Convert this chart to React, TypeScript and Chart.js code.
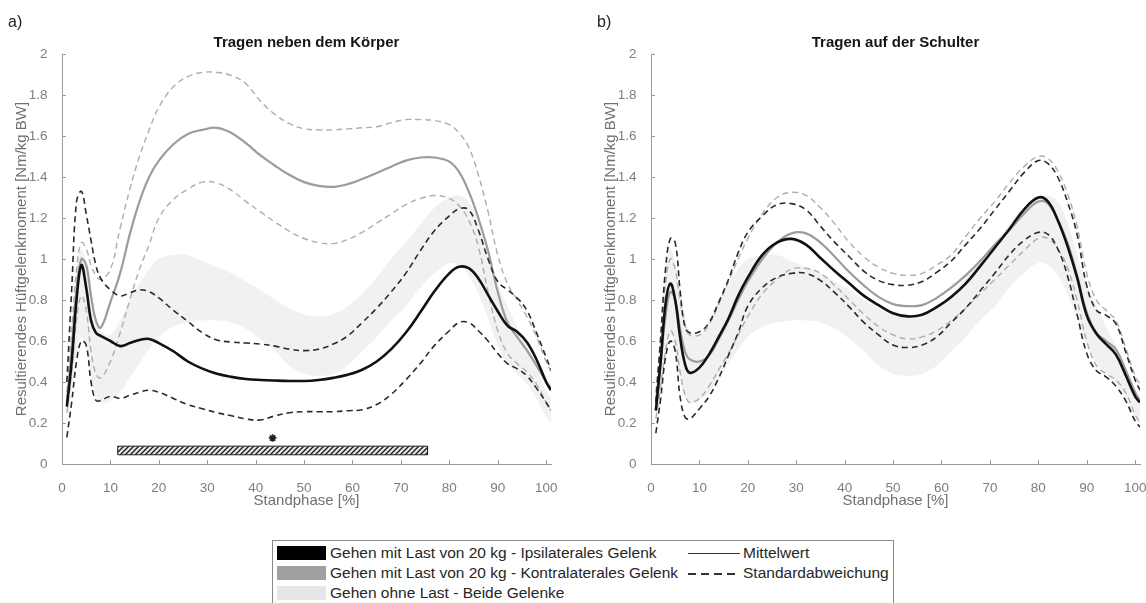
import React, { useEffect, useRef } from "react";
import { Chart, registerables } from "chart.js";

Chart.register(...registerables);

// ---------- data ----------
const X_PCT = [1, 2, 3, 4, 5, 6, 7, 8, 10, 12, 14, 16, 18, 20, 23, 26, 29, 32, 35, 38, 41, 44, 47, 50, 53, 56, 59, 62, 65, 68, 71, 74, 77, 80, 82, 84, 86, 88, 90, 92, 94, 96, 98, 100, 101];
const X_TICKS = [0, 10, 20, 30, 40, 50, 60, 70, 80, 90, 100];
const Y_TICKS = [0, 0.2, 0.4, 0.6, 0.8, 1, 1.2, 1.4, 1.6, 1.8, 2];
const Y_TICK_LABELS = ["0", "0.2", "0.4", "0.6", "0.8", "1", "1.2", "1.4", "1.6", "1.8", "2"];

// Gehen ohne Last - beide Gelenke (mean ± SD band, same in both panels)
const NO_LOAD_UP = [0.35, 0.65, 0.95, 1.05, 0.98, 0.85, 0.72, 0.65, 0.63, 0.70, 0.80, 0.88, 0.95, 1.0, 1.02, 1.02, 0.99, 0.96, 0.93, 0.89, 0.85, 0.80, 0.76, 0.73, 0.72, 0.73, 0.77, 0.83, 0.91, 1.0, 1.08, 1.17, 1.25, 1.30, 1.31, 1.28, 1.18, 1.02, 0.88, 0.77, 0.67, 0.58, 0.47, 0.36, 0.32];
const NO_LOAD_LO = [0.18, 0.35, 0.55, 0.62, 0.55, 0.42, 0.33, 0.30, 0.31, 0.35, 0.42, 0.49, 0.56, 0.62, 0.67, 0.69, 0.70, 0.70, 0.69, 0.66, 0.61, 0.55, 0.48, 0.44, 0.43, 0.44, 0.48, 0.55, 0.62, 0.70, 0.77, 0.86, 0.93, 0.98, 0.97, 0.92, 0.83, 0.71, 0.58, 0.49, 0.44, 0.39, 0.32, 0.23, 0.20];

// a) Tragen neben dem Körper
const A_IPSI_MEAN = [0.28, 0.50, 0.80, 0.97, 0.86, 0.70, 0.64, 0.625, 0.60, 0.575, 0.59, 0.605, 0.61, 0.59, 0.55, 0.50, 0.465, 0.44, 0.425, 0.415, 0.41, 0.407, 0.405, 0.405, 0.41, 0.42, 0.435, 0.46, 0.50, 0.56, 0.64, 0.74, 0.845, 0.93, 0.962, 0.955, 0.905, 0.825, 0.745, 0.675, 0.645, 0.595, 0.51, 0.40, 0.36];
const A_IPSI_UP = [0.40, 0.85, 1.28, 1.33, 1.22, 1.09, 0.97, 0.905, 0.85, 0.82, 0.835, 0.85, 0.84, 0.81, 0.75, 0.695, 0.64, 0.605, 0.595, 0.59, 0.585, 0.575, 0.56, 0.553, 0.56, 0.585, 0.625, 0.69, 0.76, 0.84, 0.93, 1.04, 1.14, 1.21, 1.245, 1.24, 1.14, 1.0, 0.89, 0.85, 0.81, 0.75, 0.64, 0.52, 0.46];
const A_IPSI_LO = [0.13, 0.30, 0.50, 0.60, 0.58, 0.40, 0.31, 0.31, 0.33, 0.32, 0.335, 0.35, 0.36, 0.35, 0.32, 0.29, 0.27, 0.25, 0.235, 0.22, 0.215, 0.235, 0.25, 0.255, 0.255, 0.255, 0.26, 0.265, 0.29, 0.34, 0.41, 0.49, 0.58, 0.65, 0.69, 0.69, 0.65, 0.60, 0.54, 0.49, 0.465, 0.43, 0.37, 0.30, 0.26];
const A_CONTRA_MEAN = [0.30, 0.55, 0.85, 1.0, 0.97, 0.82, 0.70, 0.665, 0.79, 0.93, 1.12, 1.28, 1.40, 1.48, 1.56, 1.61, 1.63, 1.64, 1.615, 1.565, 1.505, 1.455, 1.41, 1.375, 1.357, 1.352, 1.365, 1.39, 1.42, 1.45, 1.48, 1.495, 1.495, 1.475, 1.425, 1.33, 1.20, 1.04, 0.84, 0.69, 0.62, 0.555, 0.48, 0.40, 0.37];
const A_CONTRA_UP = [0.35, 0.65, 0.95, 1.08, 1.05, 0.97, 0.92, 0.90, 0.95, 1.15, 1.34, 1.50, 1.63, 1.74, 1.84, 1.89, 1.91, 1.91, 1.895, 1.855, 1.77, 1.705, 1.66, 1.635, 1.63, 1.63, 1.635, 1.64, 1.645, 1.665, 1.68, 1.68, 1.675, 1.655, 1.615, 1.545, 1.41, 1.23, 1.02, 0.88, 0.80, 0.72, 0.62, 0.50, 0.45];
const A_CONTRA_LO = [0.25, 0.45, 0.70, 0.82, 0.75, 0.55, 0.44, 0.42, 0.50, 0.64, 0.80, 0.95, 1.07, 1.20, 1.29, 1.34, 1.375, 1.37, 1.335, 1.28, 1.23, 1.18, 1.135, 1.10, 1.08, 1.075, 1.095, 1.13, 1.175, 1.22, 1.265, 1.295, 1.31, 1.295, 1.26, 1.19, 1.06, 0.84, 0.65, 0.54, 0.49, 0.45, 0.39, 0.30, 0.26];

// b) Tragen auf der Schulter
const B_IPSI_MEAN = [0.26, 0.50, 0.78, 0.88, 0.80, 0.62, 0.49, 0.445, 0.47, 0.535, 0.62, 0.71, 0.82, 0.91, 1.02, 1.08, 1.098, 1.07, 1.005, 0.94, 0.88, 0.82, 0.775, 0.735, 0.72, 0.728, 0.765, 0.815, 0.88, 0.965, 1.055, 1.145, 1.24, 1.30, 1.28, 1.19, 1.065, 0.91, 0.725, 0.635, 0.585, 0.535, 0.435, 0.33, 0.30];
const B_IPSI_UP = [0.30, 0.62, 0.95, 1.10, 1.08, 0.85, 0.67, 0.64, 0.645, 0.69, 0.79, 0.90, 1.03, 1.13, 1.21, 1.265, 1.27, 1.24, 1.16, 1.08, 1.01, 0.94, 0.895, 0.875, 0.872, 0.89, 0.935, 0.99, 1.07, 1.15, 1.24, 1.33, 1.42, 1.48, 1.465, 1.40, 1.28, 1.12, 0.87, 0.75, 0.725, 0.685, 0.55, 0.41, 0.36];
const B_IPSI_LO = [0.15, 0.32, 0.52, 0.60, 0.55, 0.33, 0.23, 0.22, 0.27, 0.33, 0.42, 0.53, 0.64, 0.77, 0.86, 0.91, 0.93, 0.93, 0.895, 0.835, 0.765, 0.69, 0.63, 0.58, 0.568, 0.58, 0.62, 0.69, 0.76, 0.845, 0.93, 1.02, 1.09, 1.13, 1.12, 1.05, 0.92, 0.73, 0.54, 0.455, 0.425, 0.38, 0.31, 0.21, 0.18];
const B_CONTRA_MEAN = [0.30, 0.50, 0.72, 0.84, 0.80, 0.66, 0.55, 0.51, 0.50, 0.53, 0.61, 0.70, 0.80, 0.89, 1.0, 1.08, 1.125, 1.125, 1.08, 1.01, 0.935, 0.87, 0.815, 0.78, 0.77, 0.775, 0.81, 0.86, 0.92, 0.99, 1.07, 1.14, 1.22, 1.28, 1.27, 1.19, 1.08, 0.92, 0.74, 0.64, 0.60, 0.56, 0.46, 0.35, 0.31];
const B_CONTRA_UP = [0.35, 0.60, 0.88, 1.0, 0.95, 0.80, 0.68, 0.63, 0.63, 0.68, 0.78, 0.89, 1.0, 1.10, 1.22, 1.30, 1.325, 1.31, 1.25, 1.17, 1.08, 1.01, 0.96, 0.93, 0.92, 0.93, 0.97, 1.02, 1.11, 1.20, 1.28, 1.37, 1.45, 1.50, 1.49, 1.43, 1.32, 1.16, 0.93, 0.80, 0.75, 0.70, 0.57, 0.43, 0.39];
const B_CONTRA_LO = [0.22, 0.38, 0.55, 0.65, 0.60, 0.45, 0.34, 0.30, 0.32, 0.38, 0.46, 0.54, 0.63, 0.72, 0.83, 0.90, 0.95, 0.955, 0.93, 0.87, 0.80, 0.73, 0.67, 0.63, 0.61, 0.62, 0.65, 0.70, 0.76, 0.83, 0.90, 0.97, 1.04, 1.10, 1.10, 1.05, 0.96, 0.80, 0.60, 0.48, 0.44, 0.41, 0.35, 0.24, 0.20];

// significance interval (panel a)
const SIG_RANGE_X = [11.5, 75.5];
const SIG_BAR_Y = [0.045, 0.087];
const SIG_STAR = [43.5, 0.127];

// ---------- styles ----------
const FONT = "'Liberation Sans', Arial, Helvetica, sans-serif";
const AXIS_COLOR = "#9a9a9a";
const TICK_COLOR = "#7e7e7e";
const LABEL_COLOR = "#707070";
const BAND_COLOR = "#f1f1f1";
const IPSI_COLOR = "#111111";
const IPSI_SD_COLOR = "#2a2a2a";
const CONTRA_COLOR = "#9c9c9c";
const CONTRA_SD_COLOR = "#adadad";
const CURVE_TENSION = 0.4;

function series(ys: number[]) {
  return X_PCT.map((x, i) => ({ x, y: ys[i] }));
}

function hatchPattern(): CanvasPattern | string {
  const c = document.createElement("canvas");
  c.width = 5;
  c.height = 5;
  const g = c.getContext("2d");
  if (!g) return "#888";
  g.fillStyle = "#e6e6e6";
  g.fillRect(0, 0, 5, 5);
  g.strokeStyle = "#1a1a1a";
  g.lineWidth = 1.3;
  g.beginPath();
  g.moveTo(0, 5);
  g.lineTo(5, 0);
  g.moveTo(-1, 1);
  g.lineTo(1, -1);
  g.moveTo(4, 6);
  g.lineTo(6, 4);
  g.stroke();
  const p = g.createPattern(c, "repeat");
  return p || "#888";
}

const inwardTicks = {
  id: "inwardTicks",
  afterDatasetsDraw(chart: any) {
    const { ctx, chartArea, scales } = chart;
    const x = scales.x;
    const y = scales.y;
    ctx.save();
    ctx.strokeStyle = AXIS_COLOR;
    ctx.lineWidth = 1;
    ctx.beginPath();
    for (const v of X_TICKS) {
      const px = Math.round(x.getPixelForValue(v)) + 0.5;
      ctx.moveTo(px, chartArea.bottom);
      ctx.lineTo(px, chartArea.bottom - 4);
    }
    for (const v of Y_TICKS) {
      const py = Math.round(y.getPixelForValue(v)) + 0.5;
      ctx.moveTo(chartArea.left, py);
      ctx.lineTo(chartArea.left + 4, py);
    }
    ctx.stroke();
    ctx.restore();
  },
};

const panelText = {
  id: "panelText",
  afterDraw(chart: any, _args: any, opts: any) {
    const { ctx, chartArea } = chart;
    ctx.save();
    ctx.fillStyle = "#151515";
    ctx.font = `bold 15px ${FONT}`;
    ctx.textAlign = "center";
    ctx.textBaseline = "middle";
    ctx.fillText(opts.title, (chartArea.left + chartArea.right) / 2, chartArea.top - 11);
    ctx.fillStyle = "#222";
    ctx.font = `16px ${FONT}`;
    ctx.textAlign = "left";
    ctx.fillText(opts.letter, 8, 23);
    ctx.restore();
  },
};

type PanelProps = {
  letter: string;
  title: string;
  ipsi: number[];
  ipsiUp: number[];
  ipsiLo: number[];
  contra: number[];
  contraUp: number[];
  contraLo: number[];
  showSig: boolean;
  left: number;
  width: number;
  padRight: number;
};

function Panel(p: PanelProps) {
  const ref = useRef<HTMLCanvasElement | null>(null);
  useEffect(() => {
    if (!ref.current) return;
    const line = (data: number[], color: string, width: number, dash: number[], order: number) => ({
      type: "line",
      data: series(data),
      borderColor: color,
      borderWidth: width,
      borderDash: dash,
      pointRadius: 0,
      fill: false,
      tension: CURVE_TENSION,
      order,
    });
    const datasets: any[] = [
      {
        type: "line",
        data: series(NO_LOAD_UP),
        borderWidth: 0,
        borderColor: "rgba(0,0,0,0)",
        backgroundColor: BAND_COLOR,
        fill: "+1",
        pointRadius: 0,
        tension: CURVE_TENSION,
        order: 30,
      },
      {
        type: "line",
        data: series(NO_LOAD_LO),
        borderWidth: 0,
        borderColor: "rgba(0,0,0,0)",
        fill: false,
        pointRadius: 0,
        tension: CURVE_TENSION,
        order: 30,
      },
      line(p.contraUp, CONTRA_SD_COLOR, 1.4, [6, 4], 20),
      line(p.contraLo, CONTRA_SD_COLOR, 1.4, [6, 4], 20),
      line(p.contra, CONTRA_COLOR, 2.2, [], 15),
      line(p.ipsiUp, IPSI_SD_COLOR, 1.6, [6, 4], 10),
      line(p.ipsiLo, IPSI_SD_COLOR, 1.6, [6, 4], 10),
      line(p.ipsi, IPSI_COLOR, 2.6, [], 5),
    ];
    if (p.showSig) {
      datasets.push({
        type: "line",
        data: [
          { x: SIG_RANGE_X[0], y: SIG_BAR_Y[0] },
          { x: SIG_RANGE_X[0], y: SIG_BAR_Y[1] },
          { x: SIG_RANGE_X[1], y: SIG_BAR_Y[1] },
          { x: SIG_RANGE_X[1], y: SIG_BAR_Y[0] },
          { x: SIG_RANGE_X[0], y: SIG_BAR_Y[0] },
        ],
        borderColor: "#222",
        borderWidth: 1,
        backgroundColor: hatchPattern(),
        fill: "shape",
        pointRadius: 0,
        tension: 0,
        order: 2,
      });
      datasets.push({
        type: "scatter",
        data: [{ x: SIG_STAR[0], y: SIG_STAR[1] }],
        pointStyle: "star",
        pointRadius: 3.8,
        borderColor: "#222",
        borderWidth: 1.7,
        backgroundColor: "#222",
        order: 1,
      });
    }
    const chart = new Chart(ref.current, {
      type: "line",
      data: { datasets },
      plugins: [inwardTicks, panelText],
      options: {
        animation: false,
        responsive: false,
        maintainAspectRatio: false,
        events: [],
        layout: { padding: { left: 0, right: p.padRight, top: 54, bottom: 0 } },
        plugins: {
          legend: { display: false },
          tooltip: { enabled: false },
          title: { display: false },
          panelText: { title: p.title, letter: p.letter },
        } as any,
        scales: {
          x: {
            type: "linear",
            min: 0,
            max: 101,
            afterBuildTicks: (s: any) => {
              s.ticks = X_TICKS.map((v) => ({ value: v }));
            },
            afterFit: (s: any) => {
              s.height = 56;
              s.paddingLeft = 0;
              s.paddingRight = 0;
            },
            ticks: {
              autoSkip: false,
              maxRotation: 0,
              padding: 8,
              color: TICK_COLOR,
              font: { family: FONT, size: 13.5 },
              callback: (v: any) => String(v),
            },
            grid: { display: false },
            border: { display: true, color: AXIS_COLOR, width: 1 },
            title: {
              display: true,
              text: "Standphase [%]",
              color: LABEL_COLOR,
              font: { family: FONT, size: 15 },
              padding: { top: 0, bottom: 10.6 },
            },
          },
          y: {
            type: "linear",
            min: 0,
            max: 2,
            afterBuildTicks: (s: any) => {
              s.ticks = Y_TICKS.map((v) => ({ value: v }));
            },
            afterFit: (s: any) => {
              s.width = 62;
              s.paddingTop = 0;
              s.paddingBottom = 0;
            },
            ticks: {
              autoSkip: false,
              padding: 6.5,
              color: TICK_COLOR,
              font: { family: FONT, size: 13.5 },
              callback: (_v: any, i: number) => Y_TICK_LABELS[i],
            },
            grid: { display: false },
            border: { display: true, color: AXIS_COLOR, width: 1 },
            title: {
              display: true,
              text: "Resultierendes Hüftgelenkmoment [Nm/kg BW]",
              color: LABEL_COLOR,
              font: { family: FONT, size: 15 },
              padding: { top: 13, bottom: 0 },
            },
          },
        },
      } as any,
    });
    return () => chart.destroy();
  }, []);
  return (
    <canvas
      ref={ref}
      width={p.width}
      height={520}
      style={{ position: "absolute", left: p.left, top: 0, width: p.width, height: 520 }}
    />
  );
}

function Swatch({ color }: { color: string }) {
  return <div style={{ position: "absolute", left: 4, top: -7, width: 49, height: 14, background: color }} />;
}

function LegendRow({ top, color, text }: { top: number; color: string; text: string }) {
  return (
    <div style={{ position: "absolute", left: 0, top, height: 0 }}>
      <Swatch color={color} />
      <div style={{ position: "absolute", left: 57, top: -10, whiteSpace: "nowrap", lineHeight: "20px" }}>{text}</div>
    </div>
  );
}

export default function App() {
  return (
    <div
      style={{
        position: "absolute",
        left: 0,
        top: 0,
        width: 1146,
        height: 603,
        overflow: "hidden",
        background: "#fff",
      }}
    >
      <Panel
        letter="a)"
        title="Tragen neben dem Körper"
        ipsi={A_IPSI_MEAN}
        ipsiUp={A_IPSI_UP}
        ipsiLo={A_IPSI_LO}
        contra={A_CONTRA_MEAN}
        contraUp={A_CONTRA_UP}
        contraLo={A_CONTRA_LO}
        showSig={true}
        left={0}
        width={573}
        padRight={22}
      />
      <Panel
        letter="b)"
        title="Tragen auf der Schulter"
        ipsi={B_IPSI_MEAN}
        ipsiUp={B_IPSI_UP}
        ipsiLo={B_IPSI_LO}
        contra={B_CONTRA_MEAN}
        contraUp={B_CONTRA_UP}
        contraLo={B_CONTRA_LO}
        showSig={false}
        left={589}
        width={557}
        padRight={6}
      />
      <div
        style={{
          position: "absolute",
          left: 272,
          top: 540,
          width: 622,
          height: 80,
          border: "1px solid #8a8a8a",
          boxSizing: "border-box",
          background: "#fff",
          fontFamily: FONT,
          fontSize: 15.5,
          color: "#262626",
        }}
      >
        <LegendRow top={12} color="#000000" text="Gehen mit Last von 20 kg - Ipsilaterales Gelenk" />
        <LegendRow top={32} color="#a0a0a0" text="Gehen mit Last von 20 kg - Kontralaterales Gelenk" />
        <LegendRow top={52} color="#e6e6e6" text="Gehen ohne Last - Beide Gelenke" />
        <div style={{ position: "absolute", left: 415, top: 12, width: 52, height: 1, background: "#333" }} />
        <div style={{ position: "absolute", left: 470, top: 2, whiteSpace: "nowrap", lineHeight: "20px" }}>Mittelwert</div>
        <div
          style={{
            position: "absolute",
            left: 415,
            top: 32,
            width: 52,
            height: 1.5,
            background: "repeating-linear-gradient(to right, #333 0px, #333 8px, transparent 8px, transparent 13px)",
          }}
        />
        <div style={{ position: "absolute", left: 470, top: 22, whiteSpace: "nowrap", lineHeight: "20px" }}>Standardabweichung</div>
      </div>
    </div>
  );
}
